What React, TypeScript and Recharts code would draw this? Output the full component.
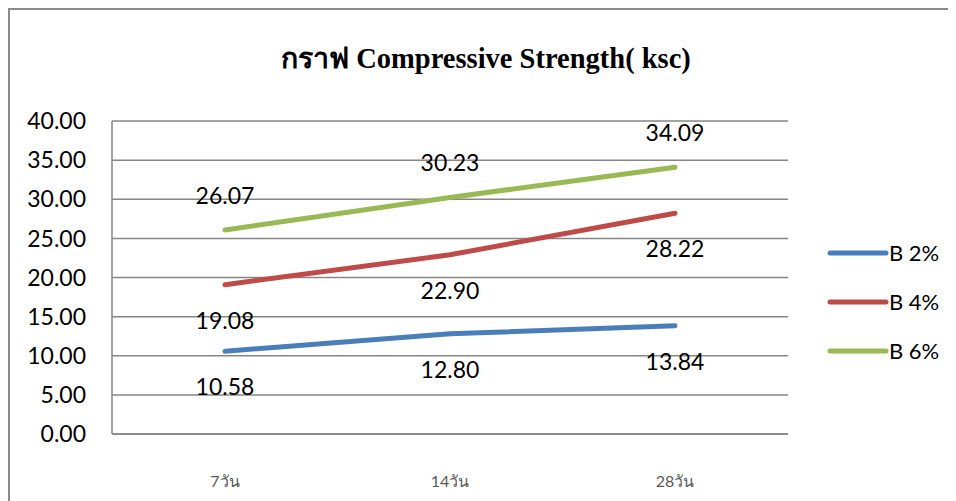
import { LineChart, Line, XAxis, YAxis, CartesianGrid, LabelList } from "recharts";

const ages = ["7วัน", "14วัน", "28วัน"];
const b2 = [10.58, 12.8, 13.84];
const b4 = [19.08, 22.9, 28.22];
const b6 = [26.07, 30.23, 34.09];
const yTicks = [0, 5, 10, 15, 20, 25, 30, 35, 40];

const series = [
  { key: "b2", name: "B 2%", color: "#4A7EBB", values: b2, labelAbove: false },
  { key: "b4", name: "B 4%", color: "#BE4B48", values: b4, labelAbove: false },
  { key: "b6", name: "B 6%", color: "#98B954", values: b6, labelAbove: true },
];

const data = ages.map((age, i) => ({
  age,
  b2: b2[i],
  b4: b4[i],
  b6: b6[i],
}));

const numFont = "Lato, 'Liberation Sans', sans-serif";

function makeLabel(above: boolean) {
  return (props: any) => {
    const { x, y, value } = props;
    return (
      <text
        x={x}
        y={above ? y - 35 : y + 35}
        textAnchor="middle"
        dominantBaseline="central"
        fontFamily={numFont}
        fontSize={23}
        fill="#000"
      >
        {Number(value).toFixed(2)}
      </text>
    );
  };
}

// legend sits to the right of the plot, outside the chart's layout
function LegendBox() {
  return (
    <div style={{ position: "absolute", left: 827, top: 228, fontFamily: numFont, fontSize: 22, color: "#000" }}>
      {series.map((s) => (
        <div key={s.key} style={{ display: "flex", alignItems: "center", height: 49 }}>
          <svg width={62} height={10} style={{ display: "block" }}>
            <line x1={3} y1={5} x2={59} y2={5} stroke={s.color} strokeWidth={5} strokeLinecap="round" />
          </svg>
          <span style={{ marginLeft: 0 }}>{s.name}</span>
        </div>
      ))}
    </div>
  );
}

export default function App() {
  return (
    <div
      style={{
        position: "relative",
        width: 948,
        height: 493,
        borderTop: "2px solid #8a8a8a",
        borderLeft: "2px solid #8a8a8a",
        boxSizing: "border-box",
        overflow: "visible",
      }}
    >
      <div style={{ position: "absolute", left: -10, top: -10 }}>
        <LineChart width={956} height={501} data={data} margin={{ top: 121, right: 168, bottom: 0, left: 0 }}>
          <text
            x={486}
            y={58}
            textAnchor="middle"
            dominantBaseline="central"
            fontFamily="'Liberation Serif', 'Times New Roman', serif"
            fontWeight="bold"
            fontSize={28.5}
            fill="#000"
          >
            กราฟ Compressive Strength( ksc)
          </text>
          <CartesianGrid vertical={false} stroke="#868686" strokeWidth={1.5} />
          <XAxis
            dataKey="age"
            height={67}
            padding={{ left: 113, right: 113 }}
            tickLine={false}
            tickSize={0}
            tickMargin={42}
            axisLine={{ stroke: "#868686", strokeWidth: 1.5 }}
            tick={{ fontSize: 16, fill: "#595959", fontFamily: numFont }}
          />
          <YAxis
            width={112}
            domain={[0, 40]}
            ticks={yTicks}
            interval={0}
            tickFormatter={(v) => Number(v).toFixed(2)}
            tickLine={false}
            tickSize={0}
            tickMargin={26}
            axisLine={{ stroke: "#868686", strokeWidth: 1.5 }}
            tick={{ fontSize: 23, fill: "#000", fontFamily: numFont }}
          />
          {series.map((s) => (
            <Line
              key={s.key}
              dataKey={s.key}
              name={s.name}
              stroke={s.color}
              strokeWidth={5}
              strokeLinecap="round"
              dot={false}
              activeDot={false}
              type="linear"
              isAnimationActive={false}
            >
              <LabelList dataKey={s.key} content={makeLabel(s.labelAbove)} />
            </Line>
          ))}
        </LineChart>
        <LegendBox />
      </div>
    </div>
  );
}
